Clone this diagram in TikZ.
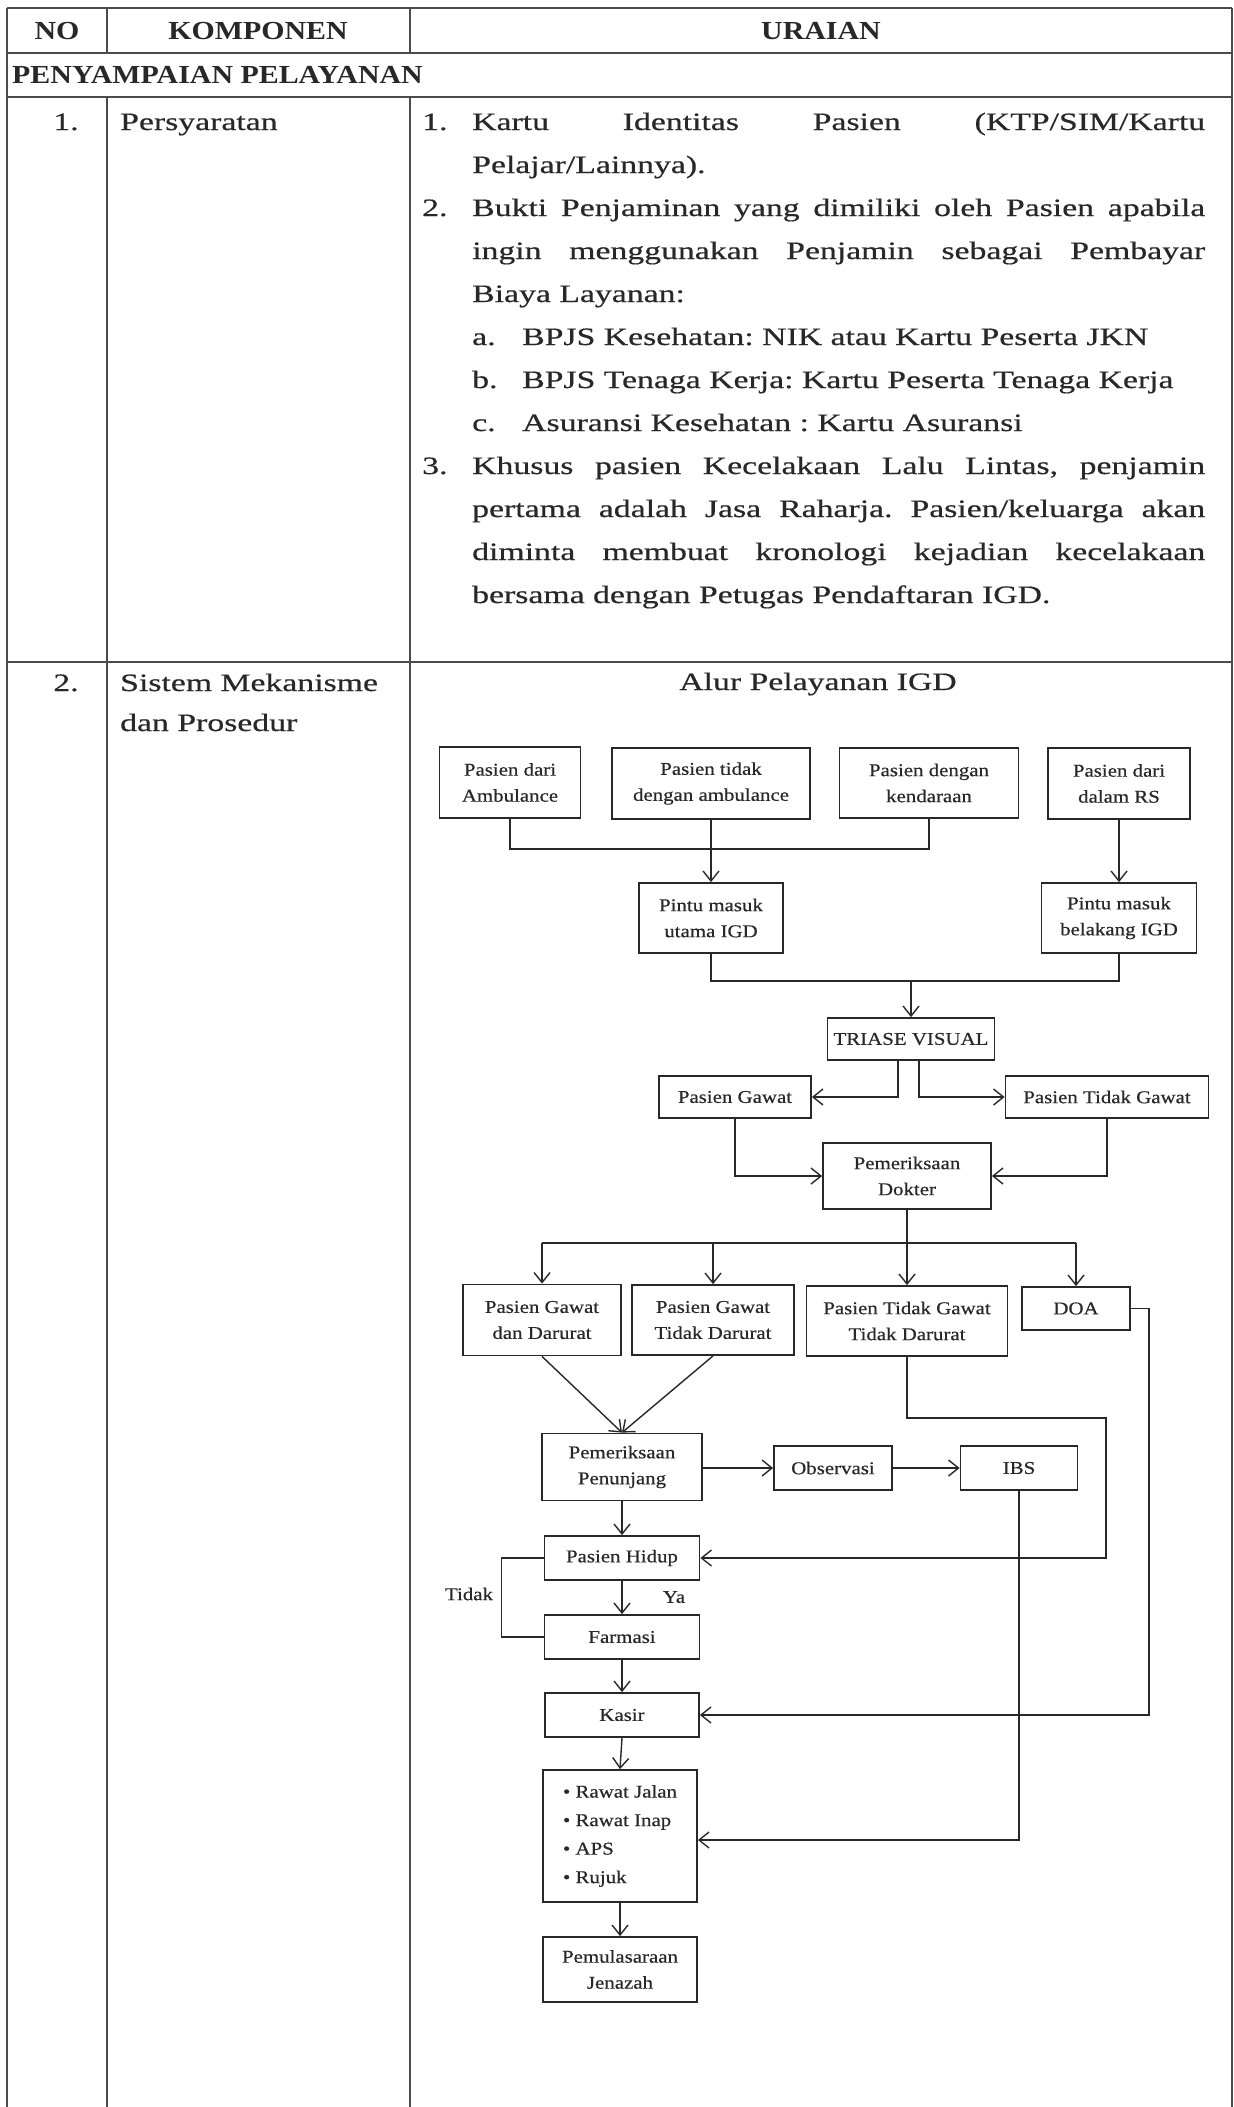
\documentclass[tikz,border=0pt]{standalone}
\usepackage{fontspec}
\setmainfont{Liberation Serif}
\newfontfamily\bodyfont{Liberation Serif}[FakeStretch=1.35,FakeBold=0.5]
\newfontfamily\headfont{Liberation Serif}[FakeStretch=1.15]
\newfontfamily\flowfont{Liberation Serif}[FakeStretch=1.16,FakeBold=0.5]
\usetikzlibrary{arrows.meta}
\definecolor{ink}{RGB}{40,40,40}
\definecolor{rulec}{RGB}{75,75,75}
\frenchspacing
\begin{document}
\begin{tikzpicture}[x=1pt,y=-1pt,
  tbl/.style={draw=rulec, line width=1.8pt},
  body/.style={anchor=base west, inner sep=0pt, text=ink, font=\bodyfont\fontsize{25}{30}\selectfont},
  head/.style={anchor=base, inner sep=0pt, text=ink, font=\headfont\bfseries\fontsize{26}{30}\selectfont},
  box/.style={draw=ink, line width=1.8pt, align=center, inner sep=0pt, text=ink, font=\flowfont\fontsize{18}{26}\selectfont},
  conn/.style={draw=ink, line width=1.4pt},
  arr/.style={conn, -{Straight Barb[length=10pt,width=16pt]}},
  lab/.style={inner sep=0pt, text=ink, font=\flowfont\fontsize{18}{22}\selectfont}
]
\useasboundingbox (0,0) rectangle (1234,2107);
\fill[white] (0,0) rectangle (1234,2107);

% table rules
\draw[tbl] (7,8) -- (1232,8);
\draw[tbl] (7,53) -- (1232,53);
\draw[tbl] (7,97) -- (1232,97);
\draw[tbl] (7,662) -- (1232,662);
\draw[tbl] (7,8) -- (7,2107);
\draw[tbl] (1232,8) -- (1232,2107);
\draw[tbl] (107,8) -- (107,53);
\draw[tbl] (107,97) -- (107,2107);
\draw[tbl] (410,8) -- (410,53);
\draw[tbl] (410,97) -- (410,2107);

% header
\node[head] (hNO) at (57,39) {NO};
\node[head] (hKOM) at (258,39) {KOMPONEN};
\node[head] (hUR) at (821,39) {URAIAN};
\node[head, anchor=base west] (hSec) at (12,83) {PENYAMPAIAN PELAYANAN};

% row 1
\node[body, anchor=base] (n1) at (66,130) {1.};
\node[body] (k1) at (120,130) {Persyaratan};
\node[body] (p1n) at (422,130) {1.};
\node[body] (p1) at (472,130) {\makebox[733pt][s]{Kartu Identitas Pasien (KTP/SIM/Kartu}};
\node[body] (p1b) at (472,173) {Pelajar/Lainnya).};
\node[body] (p2n) at (422,216) {2.};
\node[body] (p2) at (472,216) {\makebox[733pt][s]{Bukti Penjaminan yang dimiliki oleh Pasien apabila}};
\node[body] (p2b) at (472,259) {\makebox[733pt][s]{ingin menggunakan Penjamin sebagai Pembayar}};
\node[body] (p2c) at (472,302) {Biaya Layanan:};
\node[body] (pan) at (472,345) {a.};
\node[body] (pa) at (522,345) {BPJS Kesehatan: NIK atau Kartu Peserta JKN};
\node[body] (pbn) at (472,388) {b.};
\node[body] (pb) at (522,388) {BPJS Tenaga Kerja: Kartu Peserta Tenaga Kerja};
\node[body] (pcn) at (472,431) {c.};
\node[body] (pc) at (522,431) {Asuransi Kesehatan : Kartu Asuransi};
\node[body] (p3n) at (422,474) {3.};
\node[body] (p3) at (472,474) {\makebox[733pt][s]{Khusus pasien Kecelakaan Lalu Lintas, penjamin}};
\node[body] (p3b) at (472,517) {\makebox[733pt][s]{pertama adalah Jasa Raharja. Pasien/keluarga akan}};
\node[body] (p3c) at (472,560) {\makebox[733pt][s]{diminta membuat kronologi kejadian kecelakaan}};
\node[body] (p3d) at (472,603) {bersama dengan Petugas Pendaftaran IGD.};

% row 2
\node[body, anchor=base] (n2) at (66,691) {2.};
\node[body] (k2) at (120,691) {Sistem Mekanisme};
\node[body] (k2b) at (120,731) {dan Prosedur};
\node[body, anchor=base] (title) at (818,690) {Alur Pelayanan IGD};

% flowchart boxes
\node[box, minimum width=141pt, minimum height=71pt] (A) at (510,782.5) {Pasien dari\\Ambulance};
\node[box, minimum width=198pt, minimum height=71pt] (B) at (711,783.5) {Pasien tidak\\dengan ambulance};
\node[box, minimum width=179pt, minimum height=70pt] (C) at (929,783) {Pasien dengan\\kendaraan};
\node[box, minimum width=142pt, minimum height=71pt] (D) at (1119,783.5) {Pasien dari\\dalam RS};
\node[box, minimum width=144pt, minimum height=70pt] (E) at (711,918) {Pintu masuk\\utama IGD};
\node[box, minimum width=155pt, minimum height=70pt] (F) at (1119,918) {Pintu masuk\\belakang IGD};
\node[box, minimum width=167pt, minimum height=42pt] (G) at (911,1039) {TRIASE VISUAL};
\node[box, minimum width=152pt, minimum height=42pt] (H) at (735,1097) {Pasien Gawat};
\node[box, minimum width=203pt, minimum height=42pt] (I) at (1107,1097) {Pasien Tidak Gawat};
\node[box, minimum width=168pt, minimum height=66pt] (J) at (907,1176) {Pemeriksaan\\Dokter};
\node[box, minimum width=158pt, minimum height=71pt] (K) at (542,1320) {Pasien Gawat\\dan Darurat};
\node[box, minimum width=162pt, minimum height=70pt] (L) at (713,1320) {Pasien Gawat\\Tidak Darurat};
\node[box, minimum width=201pt, minimum height=70pt] (M) at (907,1321) {Pasien Tidak Gawat\\Tidak Darurat};
\node[box, minimum width=108pt, minimum height=43pt] (N) at (1076,1308.5) {DOA};
\node[box, minimum width=160pt, minimum height=67pt] (O) at (622,1467) {Pemeriksaan\\Penunjang};
\node[box, minimum width=118pt, minimum height=44pt] (P) at (833,1468) {Observasi};
\node[box, minimum width=117pt, minimum height=44pt] (Q) at (1019,1468) {IBS};
\node[box, minimum width=155pt, minimum height=44pt] (R) at (622,1558) {Pasien Hidup};
\node[box, minimum width=155pt, minimum height=44pt] (S) at (622,1637) {Farmasi};
\node[box, minimum width=154pt, minimum height=44pt] (T) at (622,1715) {Kasir};
\node[box, minimum width=154pt, minimum height=132pt, align=left, font=\flowfont\fontsize{18}{28.5}\selectfont] (U) at (620,1836)
  {\textbullet\ Rawat Jalan\\\textbullet\ Rawat Inap\\\textbullet\ APS\\\textbullet\ Rujuk};
\node[box, minimum width=154pt, minimum height=65pt] (V) at (620,1969.5) {Pemulasaraan\\Jenazah};

\node[lab] (tidak) at (469,1594) {Tidak};
\node[lab] (ya) at (674,1597) {Ya};

% connectors
\coordinate (j1) at (711,849);
\draw[conn] (A.south) |- (j1) -| (C.south);
\draw[arr] (B.south) -- (E.north);
\draw[arr] (D.south) -- (F.north);
\coordinate (j2) at (911,981);
\draw[conn] (E.south) |- (j2) -| (F.south);
\draw[arr] (j2) -- (G.north);
\draw[arr] ([xshift=-13pt]G.south) |- (H.east);
\draw[arr] ([xshift=8pt]G.south) |- (I.west);
\draw[arr] (H.south) |- (J.west);
\draw[arr] (I.south) |- (J.east);
\coordinate (j3) at (907,1243);
\draw[conn] (J.south) -- (j3);
\draw[conn] (K.north |- j3) -- (N.north |- j3);
\draw[arr] (K.north |- j3) -- (K.north);
\draw[arr] (L.north |- j3) -- (L.north);
\draw[arr] (j3) -- (M.north);
\draw[arr] (N.north |- j3) -- (N.north);
\draw[arr] (K.south) -- (O.north);
\draw[arr] (L.south) -- (O.north);
\draw[arr] (O.east |- P.west) -- (P.west);
\draw[arr] (P.east) -- (Q.west);
\draw[arr] (O.south) -- (R.north);
\coordinate (m1) at (1106,1418);
\draw[arr] (M.south) |- (m1) |- (R.east);
\draw[arr] (R.south) -- (S.north);
\draw[conn] (R.west) -- ++(-42,0) |- (S.west);
\draw[arr] (S.south) -- (T.north);
\coordinate (n1) at (1149,1308.5);
\draw[arr] (N.east) -- (n1) |- (T.east);
\draw[arr] (T.south) -- (U.north);
\draw[arr] (Q.south) |- ([yshift=-4pt]U.east);
\draw[arr] (U.south) -- (V.north);
\end{tikzpicture}
\end{document}
